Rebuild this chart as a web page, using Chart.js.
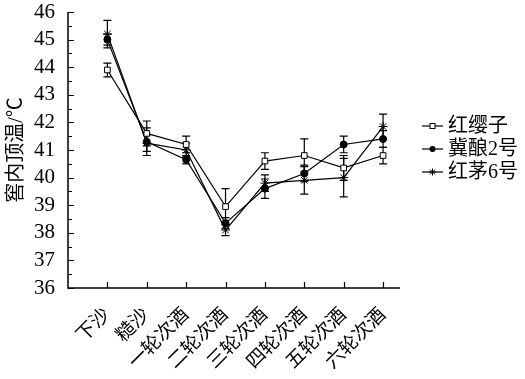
<!DOCTYPE html>
<html>
<head>
<meta charset="utf-8">
<script src="https://cdn.jsdelivr.net/npm/chart.js@4/dist/chart.umd.min.js"></script>
<style>
html, body { margin: 0; padding: 0; background: #fff; }
#wrap { width: 525px; height: 379px; }
</style>
</head>
<body>
<div id="wrap"><canvas id="tempChart"></canvas></div>
<script>
// 轮次
const stages = ['下沙', '糙沙', '一轮次酒', '二轮次酒', '三轮次酒', '四轮次酒', '五轮次酒', '六轮次酒'];
const seriesNames = ['红缨子', '冀酿2号', '红茅6号'];

// 窖内顶温 (mean, error)
const hongyingzi = [43.9, 41.6, 41.2, 38.95, 40.6, 40.8, 40.35, 40.8];
const hongyingziErr = [0.25, 0.45, 0.3, 0.65, 0.3, 0.6, 0.45, 0.3];
const jiniang2 = [45.0, 41.3, 40.65, 38.35, 39.6, 40.15, 41.2, 41.4];
const jiniang2Err = [0.2, 0.5, 0.15, 0.2, 0.35, 0.3, 0.3, 0.3];
const hongmao6 = [45.2, 41.25, 41.0, 38.1, 39.8, 39.9, 40.0, 41.85];
const hongmao6Err = [0.5, 0.3, 0.25, 0.2, 0.3, 0.5, 0.7, 0.45];

const yMin = 36;
const yMax = 46;

const FONT = '"Liberation Serif", "Noto Sans CJK SC", serif';

function toPoints(values) {
	return values.map((v, i) => ({ x: i + 1, y: v }));
}

const errors = [hongyingziErr, jiniang2Err, hongmao6Err];

// error bars under the markers
const errorBarPlugin = {
	id: 'errorBars',
	beforeDatasetsDraw(chart) {
		const ctx = chart.ctx;
		const xs = chart.scales.x;
		const ys = chart.scales.y;
		ctx.save();
		ctx.strokeStyle = '#000';
		ctx.lineWidth = 1.2;
		chart.data.datasets.forEach((ds, di) => {
			ds.data.forEach((p, i) => {
				const e = errors[di][i];
				const x = xs.getPixelForValue(p.x);
				const yTop = ys.getPixelForValue(p.y + e);
				const yBot = ys.getPixelForValue(p.y - e);
				ctx.beginPath();
				ctx.moveTo(x, yTop);
				ctx.lineTo(x, yBot);
				ctx.moveTo(x - 4, yTop);
				ctx.lineTo(x + 4, yTop);
				ctx.moveTo(x - 4, yBot);
				ctx.lineTo(x + 4, yBot);
				ctx.stroke();
			});
		});
		ctx.restore();
	}
};

// axis lines with inward ticks
const axesPlugin = {
	id: 'innerAxes',
	afterDraw(chart) {
		const ctx = chart.ctx;
		const a = chart.chartArea;
		const xs = chart.scales.x;
		const ys = chart.scales.y;
		ctx.save();
		ctx.strokeStyle = '#000';
		ctx.lineWidth = 1.5;
		ctx.beginPath();
		ctx.moveTo(a.left, a.top);
		ctx.lineTo(a.left, a.bottom);
		ctx.lineTo(a.right, a.bottom);
		ctx.stroke();
		ctx.lineWidth = 1.2;
		ctx.beginPath();
		for (let v = yMin; v <= yMax; v += 0.5) {
			const y = Math.round(ys.getPixelForValue(v)) + 0.5;
			const len = Number.isInteger(v) ? 6 : 4;
			ctx.moveTo(a.left, y);
			ctx.lineTo(a.left + len, y);
		}
		for (let i = 1; i <= stages.length; i++) {
			const x = Math.round(xs.getPixelForValue(i)) + 0.5;
			ctx.moveTo(x, a.bottom);
			ctx.lineTo(x, a.bottom - 6);
		}
		ctx.stroke();
		ctx.restore();
	}
};

// legend: line + marker + name
const legendPlugin = {
	id: 'sideLegend',
	afterDraw(chart) {
		const ctx = chart.ctx;
		const a = chart.chartArea;
		const x0 = a.right + 22;
		const midY = (a.top + a.bottom) / 2;
		ctx.save();
		ctx.font = '20px ' + FONT;
		ctx.textBaseline = 'middle';
		ctx.fillStyle = '#000';
		chart.data.datasets.forEach((ds, i) => {
			const y = midY + (i - 1) * 23 - 1;
			ctx.strokeStyle = '#000';
			ctx.lineWidth = 1.2;
			ctx.beginPath();
			ctx.moveTo(x0, y);
			ctx.lineTo(x0 + 21, y);
			ctx.stroke();
			const cx = x0 + 10.5;
			ctx.lineWidth = 1;
			if (ds.pointStyle === 'rect') {
				ctx.fillStyle = '#fff';
				ctx.fillRect(cx - 2.5, y - 2.5, 5, 5);
				ctx.strokeRect(cx - 2.5, y - 2.5, 5, 5);
			} else if (ds.pointStyle === 'circle') {
				ctx.fillStyle = '#000';
				ctx.beginPath();
				ctx.arc(cx, y, 3, 0, Math.PI * 2);
				ctx.fill();
			} else {
				ctx.beginPath();
				for (let k = 0; k < 4; k++) {
					const ang = k * Math.PI / 4;
					ctx.moveTo(cx - 3.5 * Math.cos(ang), y - 3.5 * Math.sin(ang));
					ctx.lineTo(cx + 3.5 * Math.cos(ang), y + 3.5 * Math.sin(ang));
				}
				ctx.stroke();
			}
			ctx.fillStyle = '#000';
			ctx.fillText(seriesNames[i], x0 + 26, y + 1);
		});
		ctx.restore();
	}
};

window.addEventListener('load', function() {
	const ctx = document.getElementById('tempChart');
	new Chart(ctx, {
		type: 'line',
		data: {
			datasets: [{
				label: seriesNames[0],
				data: toPoints(hongyingzi),
				borderColor: '#000',
				borderWidth: 1.2,
				pointStyle: 'rect',
				pointRadius: 4,
				pointBackgroundColor: '#fff',
				pointBorderColor: '#000',
				pointBorderWidth: 1
			}, {
				label: seriesNames[1],
				data: toPoints(jiniang2),
				borderColor: '#000',
				borderWidth: 1.2,
				pointStyle: 'circle',
				pointRadius: 3.5,
				pointBackgroundColor: '#000',
				pointBorderColor: '#000',
				pointBorderWidth: 1
			}, {
				label: seriesNames[2],
				data: toPoints(hongmao6),
				borderColor: '#000',
				borderWidth: 1.2,
				pointStyle: 'star',
				pointRadius: 4.5,
				pointBackgroundColor: '#000',
				pointBorderColor: '#000',
				pointBorderWidth: 1
			}]
		},
		options: {
			responsive: true,
			maintainAspectRatio: false,
			animation: false,
			layout: {
				padding: { top: 0, right: 125, left: 0, bottom: 0 }
			},
			plugins: {
				legend: { display: false },
				tooltip: { enabled: false }
			},
			scales: {
				x: {
					type: 'linear',
					min: 0,
					max: 8.43,
					afterBuildTicks: function(scale) {
						scale.ticks = [0, 1, 2, 3, 4, 5, 6, 7, 8].map(v => ({ value: v }));
					},
					afterFit: function(scale) {
						scale.height = 91;
					},
					grid: { display: false },
					border: { display: false },
					ticks: {
						autoSkip: false,
						maxRotation: 45,
						minRotation: 45,
						padding: 8,
						color: '#000',
						font: { size: 19, family: FONT },
						callback: function(v) {
							return stages[v - 1] || '';
						}
					}
				},
				y: {
					min: yMin,
					max: yMax,
					afterFit: function(scale) {
						scale.width = 68;
						scale.paddingTop = 12;
						scale.paddingBottom = 0;
					},
					grid: { display: false },
					border: { display: false },
					ticks: {
						stepSize: 1,
						autoSkip: false,
						padding: 5,
						color: '#000',
						font: { size: 21, family: FONT }
					},
					title: {
						display: true,
						text: '窖内顶温/℃',
						color: '#000',
						padding: { top: 5, bottom: 0 },
						font: { size: 20, family: FONT }
					}
				}
			}
		},
		plugins: [errorBarPlugin, axesPlugin, legendPlugin]
	});
});
</script>
</body>
</html>
